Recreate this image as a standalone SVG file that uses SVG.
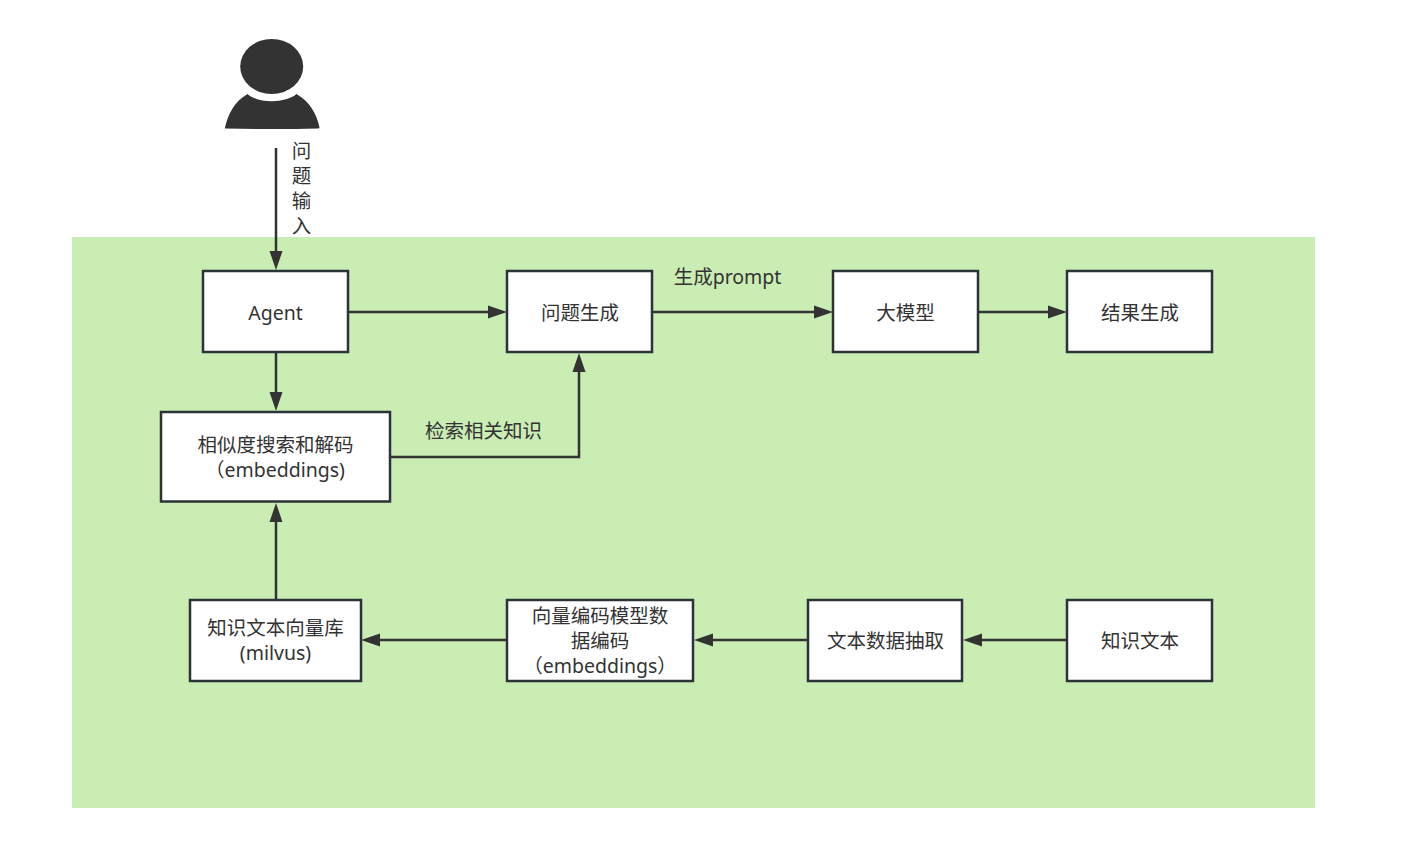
<svg xmlns="http://www.w3.org/2000/svg" width="1419" height="859" viewBox="0 0 1419 859">
<style>
.n{fill:#fff;stroke:#2b3238;stroke-width:2.5}
.t{font-family:"Noto Sans","Noto Sans CJK SC",sans-serif;font-size:19.5px;fill:#333;text-anchor:middle}
.c{fill:none;stroke:#333;stroke-width:2.5}
</style>
<defs>
<marker id="a" markerUnits="userSpaceOnUse" markerWidth="20" markerHeight="14" refX="13" refY="7" orient="auto"><path d="M0 0.500L19 7L0 13.500Z" fill="#333"/></marker>
</defs>
<rect width="1419" height="859" fill="#fff"/>
<rect x="72" y="237" width="1243" height="571" fill="#caedb4"/>
<g id="user" fill="#333">
<ellipse cx="271.700" cy="66.500" rx="31.500" ry="27.500"/>
<path d="M247.500 94C258 103.500 286 103.500 296.500 94C309 101 317 114 319.500 127.500Q319.500 128.500 318 128.500Q272 129.500 226 128.500Q224.500 128.500 225 127.500C228 114 235 101 247.500 94Z"/>
</g>
<g id="connectors">
<path class="c" d="M276 148V264" marker-end="url(#a)"/>
<path class="c" d="M349 312H501" marker-end="url(#a)"/>
<path class="c" d="M653 312H827" marker-end="url(#a)"/>
<path class="c" d="M979 312H1061" marker-end="url(#a)"/>
<path class="c" d="M276 353V405" marker-end="url(#a)"/>
<path class="c" d="M391 457H579V359" marker-end="url(#a)"/>
<path class="c" d="M276 599V509" marker-end="url(#a)"/>
<path class="c" d="M507 640H367" marker-end="url(#a)"/>
<path class="c" d="M808 640H700" marker-end="url(#a)"/>
<path class="c" d="M1067 640H969" marker-end="url(#a)"/>
</g>
<g id="edge-labels">
<text class="t"><tspan x="301.500" y="158">问</tspan><tspan x="301.500" y="183">题</tspan><tspan x="301.500" y="208">输</tspan><tspan x="301.500" y="233">入</tspan></text>
<text class="t" x="727.500" y="284">生成prompt</text>
<text class="t" x="483.500" y="438">检索相关知识</text>
</g>
<g id="agent"><rect class="n" x="203" y="271" width="145" height="81"/><text class="t" x="275.500" y="320">Agent</text></g>
<g id="question"><rect class="n" x="507" y="271" width="145" height="81"/><text class="t" x="580" y="320">问题生成</text></g>
<g id="llm"><rect class="n" x="833" y="271" width="145" height="81"/><text class="t" x="905.500" y="320">大模型</text></g>
<g id="result"><rect class="n" x="1067" y="271" width="145" height="81"/><text class="t" x="1140" y="320">结果生成</text></g>
<g id="search"><rect class="n" x="161" y="412" width="229" height="89.500"/><text class="t"><tspan x="275.500" y="452">相似度搜索和解码</tspan><tspan x="275" y="477">（embeddings)</tspan></text></g>
<g id="milvus"><rect class="n" x="190" y="600" width="171" height="81"/><text class="t"><tspan x="275.500" y="635">知识文本向量库</tspan><tspan x="275.500" y="660">(milvus)</tspan></text></g>
<g id="encode"><rect class="n" x="507" y="600" width="186" height="81"/><text class="t"><tspan x="600" y="622.500">向量编码模型数</tspan><tspan x="600" y="647.500">据编码</tspan><tspan x="600" y="672.500">（embeddings）</tspan></text></g>
<g id="extract"><rect class="n" x="808" y="600" width="154" height="81"/><text class="t" x="885.500" y="648">文本数据抽取</text></g>
<g id="knowledge"><rect class="n" x="1067" y="600" width="145" height="81"/><text class="t" x="1140" y="648">知识文本</text></g>
</svg>
